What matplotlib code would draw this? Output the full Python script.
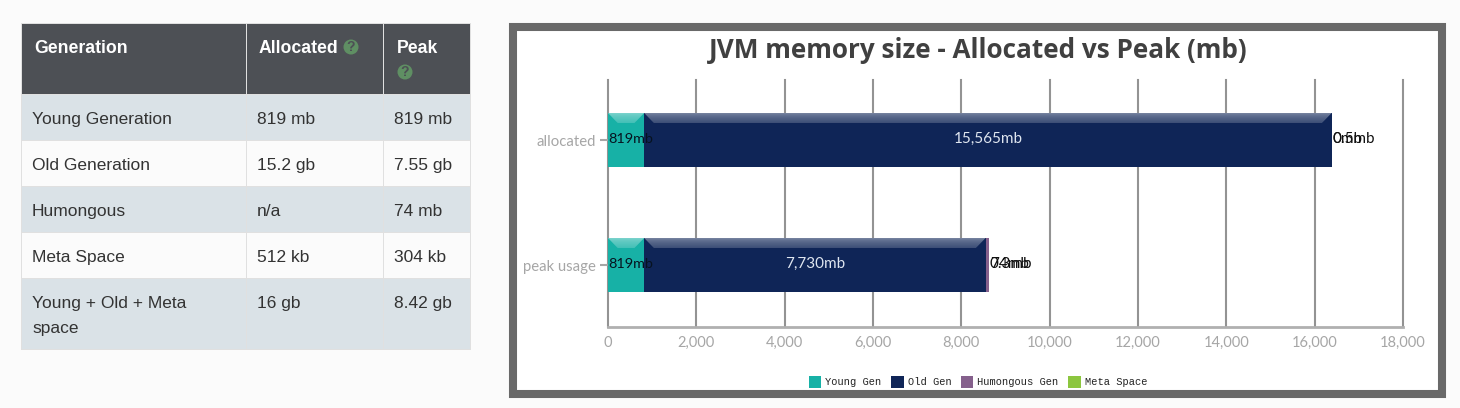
from matplotlib import pyplot as plt
from matplotlib.patches import Rectangle, Circle
import numpy as np

# table text
table_header = ["Generation", "Allocated", "Peak"]
table_rows = [
    ["Young Generation", "819 mb", "819 mb"],
    ["Old Generation", "15.2 gb", "7.55 gb"],
    ["Humongous", "n/a", "74 mb"],
    ["Meta Space", "512 kb", "304 kb"],
    ["Young + Old + Meta\nspace", "16 gb", "8.42 gb"],
]

# chart data
categories = ["allocated", "peak usage"]
series_names = ["Young Gen", "Old Gen", "Humongous Gen", "Meta Space"]
series_colors = ["#17b1a6", "#0f2557", "#85608c", "#8cc63f"]
young = [819, 819]
old = [15565, 7730]
humongous = [0, 74]
meta = [0.5, 0.3]
young_labels = ["819mb", "819mb"]
old_labels = ["15,565mb", "7,730mb"]
humongous_labels = ["0mb", "74mb"]
meta_labels = ["0.5mb", "0.3mb"]
xticks = [0, 2000, 4000, 6000, 8000, 10000, 12000, 14000, 16000, 18000]

W, H = 1460, 408
fig = plt.figure(figsize=(W/100, H/100), dpi=100, facecolor="#fbfbfb")

# page level axes in pixels, for the table and the chart frame
bg = fig.add_axes([0, 0, 1, 1])
bg.set_xlim(0, W)
bg.set_ylim(H, 0)
bg.axis("off")

col_x = [21, 246, 383, 470]
row_y = [23, 94, 140, 186, 232, 278, 349]
border = "#e0e0e0"

bg.add_patch(Rectangle((col_x[0], row_y[0]), col_x[3]-col_x[0], row_y[1]-row_y[0], fc="#4d5055", ec="none"))
for i in range(len(table_rows)):
    fc = "#dae2e7" if i % 2 == 0 else "#fbfbfb"
    bg.add_patch(Rectangle((col_x[0], row_y[i+1]), col_x[3]-col_x[0], row_y[i+2]-row_y[i+1], fc=fc, ec="none"))
for y in row_y:
    bg.plot([col_x[0], col_x[3]], [y, y], color=border, lw=0.72)
for x in col_x:
    bg.plot([x, x], [row_y[0], row_y[-1]], color=border, lw=0.72)

sans = "Liberation Sans"
for x, t in zip([34.5, 259, 397], table_header):
    bg.text(x, 53, t, color="white", fontsize=12.7, fontweight="bold", family=sans, va="baseline")

for (cx, cy) in [(351, 47), (405, 72)]:
    bg.add_patch(Circle((cx, cy), 7.5, fc="#5f8f63", ec="none"))
    bg.text(cx, cy, "?", color="#4d5055", fontsize=10, fontweight="bold", family=sans, ha="center", va="center")

for i, row in enumerate(table_rows):
    for x, t in zip([32, 257, 394], row):
        # wrapped cells go on a 25px line height
        for k, line in enumerate(t.split("\n")):
            bg.text(x, row_y[i+1] + 30 + 25*k, line, color="#333333", fontsize=12.5, family=sans, va="baseline")

# chart frame
bg.add_patch(Rectangle((513, 27), 929, 367, fc="white", ec="#696969", lw=5.8))

# chart
left, right, top, bottom = 608, 1403, 80, 327
ax = fig.add_axes([left/W, 1-bottom/H, (right-left)/W, (bottom-top)/H])
ax.set_xlim(0, 18000)
ax.set_ylim(1.496, -0.48)
for s in ["top", "right", "left"]:
    ax.spines[s].set_visible(False)
ax.spines["bottom"].set_color("#b0b0b0")
ax.spines["bottom"].set_linewidth(2)
ax.set_axisbelow(True)
ax.grid(axis="x", color="#939393", lw=1.5, clip_on=False)
ax.set_xticks(xticks)
ax.set_xticklabels([f"{v:,}" for v in xticks], family="Lato", fontsize=10.5, color="#a6a6a6")
ax.set_yticks(range(len(categories)))
ax.set_yticklabels(categories, family="Lato", fontsize=10.7, color="#a6a6a6")
ax.tick_params(axis="x", length=0, pad=6.3)
ax.tick_params(axis="y", length=5.5, width=1.5, color="#a6a6a6", pad=3.5)

bar_h = 0.432
bev_y = 0.08
bev_x = 220
yy = np.arange(len(categories))
series = [young, old, humongous, meta]
starts = np.zeros(len(categories))
for vals, name, col in zip(series, series_names, series_colors):
    vals = np.array(vals, dtype=float)
    ax.barh(yy, vals, left=starts, height=bar_h, color=col, label=name, zorder=3)
    for y, s, v in zip(yy, starts, vals):
        if v < 500:
            continue
        # bevel along the top of each segment, cut in thin strips to fade it out
        t = y - bar_h/2
        steps = 9
        for k in range(steps):
            f0, f1 = k/steps, (k+1)/steps
            a = 0.42 - 0.25*f0
            ax.fill([s+bev_x*f0, s+v-bev_x*f0, s+v-bev_x*f1, s+bev_x*f1],
                    [t+bev_y*f0, t+bev_y*f0, t+bev_y*f1, t+bev_y*f1],
                    color="white", alpha=a, lw=0, zorder=4)
    starts = starts + vals

for i in yy:
    lab_y = i - 0.007
    ax.annotate(young_labels[i], (0, lab_y), xytext=(0, 0), textcoords="offset pixels", family="Lato",
                fontsize=10.4, color="#06121f", va="center", zorder=5)
    ax.text(young[i]+old[i]/2, lab_y, old_labels[i], family="Lato", fontsize=11, color="#dfe6f0",
            ha="center", va="center", zorder=5)
    end = young[i]+old[i]+humongous[i]
    # both small labels start at the bar end, so they print over each other
    ax.annotate(humongous_labels[i], (end, lab_y), xytext=(1, 0), textcoords="offset pixels", family="Lato",
                fontsize=11, color="#111111", va="center", zorder=5)
    ax.annotate(meta_labels[i], (end, lab_y), xytext=(1, 0), textcoords="offset pixels", family="Lato",
                fontsize=11, color="#111111", va="center", zorder=5)

fig.text(978/W, 1-51/H, "JVM memory size - Allocated vs Peak (mb)", family="Open Sans", fontweight="bold",
         fontsize=18.8, color="#404040", ha="center", va="center")

leg = ax.legend(loc="center", bbox_to_anchor=((978-left)/(right-left), (bottom-382)/(bottom-top)), ncol=4,
                frameon=False, prop={"family": "Liberation Mono", "size": 7.5}, handlelength=1.2, handleheight=1.35,
                handletextpad=0.4, columnspacing=0.9, labelcolor="#222222")

plt.savefig("out.png", dpi=100, facecolor=fig.get_facecolor())
